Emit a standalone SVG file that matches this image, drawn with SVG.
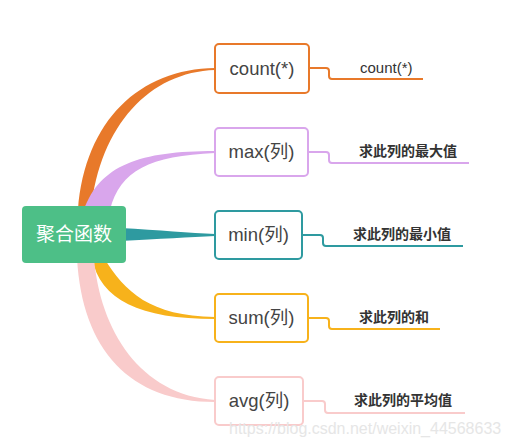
<svg xmlns="http://www.w3.org/2000/svg" width="510" height="448" viewBox="0 0 510 448">
<style>
.box{fill:#fff;stroke-width:2}
.lbl{font-family:"Liberation Sans","Noto Sans CJK SC",sans-serif;font-size:18.5px;fill:#444}
.sub{font-family:"Liberation Sans","Noto Sans CJK SC",sans-serif;font-size:14px;fill:#333;font-weight:bold}
.line{fill:none;stroke-width:2}
</style>
<rect width="510" height="448" fill="#fff"/>
<g id="connectors">
<path d="M78 210 C85 120 140 69 215 68 L215 70 C150 72 100 125 91 210 Z" fill="#e8792a"/>
<path d="M84 210 C100 165 140 151 215 151 L215 153 C150 156 120 170 110 210 Z" fill="#d9a6ec"/>
<path d="M120 228 C160 230 190 233 215 234 L215 236 C190 237 160 239 120 241 Z" fill="#2e9aa0"/>
<path d="M104 258 C125 292 150 316 215 317 L215 319 C140 319 100 300 92 258 Z" fill="#f7b21b"/>
<path d="M77 258 C82 350 130 402 215 402 L215 400 C140 395 100 330 94 258 Z" fill="#f9cbcb"/>
<path class="line" stroke="#e8792a" d="M309 68 H326 Q329 68 329 71 V76 Q329 79 332 79 H423"/>
<path class="line" stroke="#d9a6ec" d="M308 152 H326 Q329 152 329 155 V160 Q329 163 332 163 H469"/>
<path class="line" stroke="#2e9aa0" d="M302 235 H320 Q323 235 323 238 V243 Q323 246 326 246 H463"/>
<path class="line" stroke="#f7b21b" d="M308 318 H326 Q329 318 329 321 V326 Q329 329 332 329 H440"/>
<path class="line" stroke="#f9cbcb" d="M303 401 H322 Q325 401 325 404 V410 Q325 413 328 413 H465"/>
</g>
<g id="root">
<rect x="22" y="206" width="104" height="57" rx="4" fill="#4dbf87"/>
<text x="74" y="241" text-anchor="middle" font-family="Noto Sans CJK SC,sans-serif" font-size="19" fill="#fff">聚合函数</text>
</g>
<g id="count">
<rect class="box" x="215" y="44" width="94" height="49" rx="4" stroke="#e8792a"/>
<text class="lbl" x="262" y="75" text-anchor="middle">count(*)</text>
</g>
<g id="count-desc"><text class="sub" x="360" y="73" font-size="15" style="font-weight:normal;font-size:15px">count(*)</text></g>
<g id="max">
<rect class="box" x="215" y="128" width="93" height="48" rx="4" stroke="#d9a6ec"/>
<text class="lbl" x="261.5" y="158" text-anchor="middle">max(列)</text>
</g>
<g id="max-desc"><text class="sub" x="359" y="156">求此列的最大值</text></g>
<g id="min">
<rect class="box" x="215" y="211" width="87" height="48" rx="4" stroke="#2e9aa0"/>
<text class="lbl" x="258.5" y="241" text-anchor="middle">min(列)</text>
</g>
<g id="min-desc"><text class="sub" x="353" y="239">求此列的最小值</text></g>
<g id="sum">
<rect class="box" x="215" y="294" width="93" height="48" rx="4" stroke="#f7b21b"/>
<text class="lbl" x="261.5" y="324" text-anchor="middle">sum(列)</text>
</g>
<g id="sum-desc"><text class="sub" x="359" y="322">求此列的和</text></g>
<g id="avg">
<rect class="box" x="215" y="377" width="88" height="48" rx="4" stroke="#f9cbcb"/>
<text class="lbl" x="259" y="407" text-anchor="middle">avg(列)</text>
</g>
<g id="avg-desc"><text class="sub" x="354" y="405">求此列的平均值</text></g>
<text x="229" y="434" font-family="Liberation Sans,sans-serif" font-size="16" fill="#e6e6e6">https://blog.csdn.net/weixin_44568633</text>
</svg>
